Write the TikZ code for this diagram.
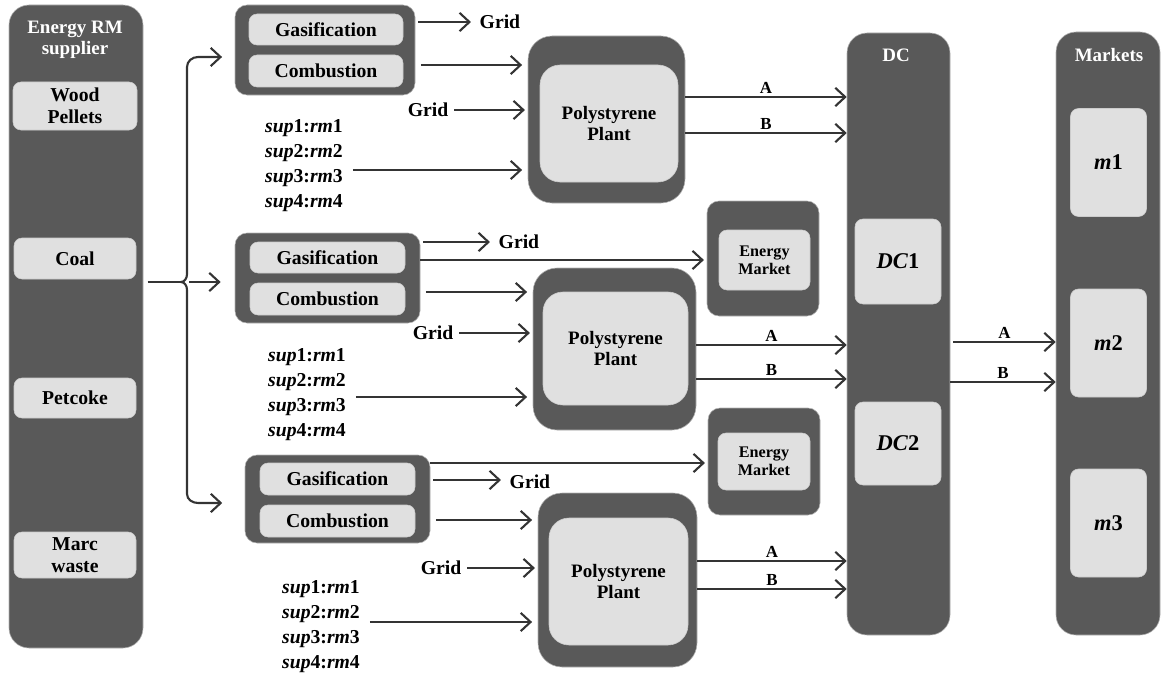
\documentclass[tikz,border=0pt]{standalone}
\usepackage{fontspec}
\setmainfont{Liberation Serif}
\usetikzlibrary{arrows.meta}
\definecolor{boxdark}{RGB}{89,89,89}
\definecolor{boxlight}{RGB}{224,224,224}
\definecolor{wire}{RGB}{52,52,52}
\newcommand{\lbl}{\bfseries\fontsize{14}{16}\selectfont}
\newcommand{\supline}[1]{\textit{sup}#1:\textit{rm}#1}

\tikzset{
  sz/.style 2 args={minimum width=#1*0.025cm, minimum height=#2*0.025cm},
  column/.style={fill=boxdark, draw=gray!60, rounded corners=0.5cm, inner sep=0pt},
  holder/.style={fill=boxdark, draw=gray!60, rounded corners=0.3cm, inner sep=0pt},
  plant/.style={fill=boxdark, draw=gray!60, rounded corners=0.6cm, inner sep=0pt},
  cell/.style={fill=boxlight, draw=gray!40, rounded corners=0.2cm, inner sep=0pt,
    align=center, font=\lbl},
  plantcell/.style={fill=boxlight, draw=gray!40, rounded corners=0.5cm, inner sep=0pt,
    align=center, font=\bfseries\fontsize{13.5}{15}\selectfont},
  head/.style={text=white, align=center, font=\bfseries\fontsize{13.5}{14.5}\selectfont},
  tag/.style={font=\lbl, inner sep=1pt},
  sups/.style={font=\bfseries\fontsize{14}{17.8}\selectfont, align=left, inner sep=1pt},
  flow/.style={draw=wire, line width=1.5pt, -{Straight Barb[length=7pt,width=13pt]}},
  ab/.style={midway, above, font=\bfseries\fontsize{12}{13}\selectfont, inner sep=2pt}
}

\begin{document}
\begin{tikzpicture}[x=0.025cm, y=-0.025cm]
\useasboundingbox (0,0) rectangle (1162,683);

% supplier column
\node[column, sz={134}{643}] (sup) at (76,326.5) {};
\node[head] (supt) at (75,40) {Energy RM\\supplier};
\node[cell, sz={124}{48}] (wood) at (75,106) {Wood\\Pellets};
\node[cell, sz={122}{41}] (coal) at (75,258.5) {Coal};
\node[cell, sz={122}{40}] (pet) at (75,398) {Petcoke};
\node[cell, sz={122}{46}] (marc) at (75,555) {Marc\\waste};

% distribution centres and markets
\node[column, sz={103}{602}] (dc) at (898.5,334) {};
\node[head] (dct) at (896,55) {DC};
\node[cell, sz={86}{85}, font=\bfseries\fontsize{16}{18}\selectfont] (dc1) at (898,261.5) {\textit{DC}1};
\node[cell, sz={86}{83}, font=\bfseries\fontsize{16}{18}\selectfont] (dc2) at (898,443.5) {\textit{DC}2};
\node[column, sz={104}{603}] (mk) at (1108,333.5) {};
\node[head] (mkt) at (1109,55) {Markets};
\foreach \i/\y in {1/162.5,2/343,3/523}
  \node[cell, sz={76}{108}, font=\bfseries\fontsize{16}{18}\selectfont] (m\i) at (1108.5,\y) {\textit{m}\i};

% group 1
\node[holder, sz={180}{90}] (gen1) at (325,50) {};
\node[cell, sz={154}{31}] (gas1) at (326,29.5) {Gasification};
\node[cell, sz={154}{32}] (comb1) at (326,71) {Combustion};
\node[plant, sz={157}{167}] (poly1) at (606.5,119.5) {};
\node[plantcell, sz={138}{117}] (pp1) at (609,123.5) {Polystyrene\\Plant};
\node[tag, anchor=west] (grid1a) at (478,22) {Grid};
\node[tag, anchor=east] (grid1b) at (450,110) {Grid};
\node[sups] (sups1) at (304,166) {\supline1\\\supline2\\\supline3\\\supline4};

% group 2
\node[holder, sz={185}{90}] (gen2) at (327.5,278) {};
\node[cell, sz={155}{31}] (gas2) at (327.5,257.5) {Gasification};
\node[cell, sz={155}{32}] (comb2) at (327.5,299) {Combustion};
\node[holder, sz={112}{115}] (em1) at (763,258.5) {};
\node[cell, sz={91}{60}, font=\bfseries\fontsize{11.5}{13}\selectfont] (emc1) at (764.5,260) {Energy\\Market};
\node[plant, sz={163}{162}] (poly2) at (614.5,349) {};
\node[plantcell, sz={145}{113}] (pp2) at (615.5,348.5) {Polystyrene\\Plant};
\node[tag, anchor=west] (grid2a) at (497,242) {Grid};
\node[tag, anchor=east] (grid2b) at (455,333) {Grid};
\node[sups] (sups2) at (307,395) {\supline1\\\supline2\\\supline3\\\supline4};

% group 3
\node[holder, sz={185}{88}] (gen3) at (337.5,499) {};
\node[cell, sz={155}{32}] (gas3) at (337.5,479) {Gasification};
\node[cell, sz={155}{32}] (comb3) at (337.5,521) {Combustion};
\node[holder, sz={112}{107}] (em2) at (764,461.5) {};
\node[cell, sz={92}{57}, font=\bfseries\fontsize{11.5}{13}\selectfont] (emc2) at (764,461.5) {Energy\\Market};
\node[plant, sz={159}{174}] (poly3) at (617.5,580) {};
\node[plantcell, sz={139}{127}] (pp3) at (618.5,581.5) {Polystyrene\\Plant};
\node[tag, anchor=west] (grid3a) at (508,482) {Grid};
\node[tag, anchor=east] (grid3b) at (463,568) {Grid};
\node[sups] (sups3) at (321,627) {\supline1\\\supline2\\\supline3\\\supline4};

% supplier fork
\coordinate (fork) at (181,282);
\draw[draw=wire, line width=1.5pt] ([xshift=3pt]sup.east |- fork) -- (fork);
\draw[flow, shorten >=9pt] (fork) to[out=0,in=-90] (187,274) -- (187,67)
    to[out=90,in=180] (198,57) -- (gen1.west |- 0,57);
\draw[flow, shorten >=16pt] (fork) to[out=0,in=90] (187,290) -- (187,494)
    to[out=-90,in=180] (198,503) -- (gen3.west |- 0,503);
\draw[flow, shorten >=10pt] (189,282) -- (gen2.west |- fork);

% plant inputs
\foreach \g/\ya/\yc/\ys in {1/22/65/170, 2/242/292/397, 3/480/520/622}
{
  \draw[flow, shorten >=5pt] ([xshift=2pt]gen\g.east |- 0,\ya) -- (grid\g a.west |- 0,\ya);
  \draw[flow, shorten >=4pt] ([xshift=4pt]gen\g.east |- 0,\yc) -- (poly\g.west |- 0,\yc);
  \draw[flow, shorten >=2pt] ([xshift=3pt]grid\g b.east) -- (poly\g.west |- grid\g b);
  \draw[flow, shorten >=4pt] ([xshift=6pt]sups\g.east |- 0,\ys) -- (poly\g.west |- 0,\ys);
}
\draw[flow, shorten >=2pt] (gen2.east |- 0,260) -- (em1.west |- 0,260);
\draw[flow, shorten >=2pt] (gen3.east |- 0,463) -- (em2.west |- 0,463);

% products to DC
\foreach \g/\ya/\yb in {1/97/133, 2/345/379, 3/561/589}
{
  \draw[flow] (poly\g.east |- 0,\ya) -- (dc.west |- 0,\ya) node[ab] {A};
  \draw[flow] (poly\g.east |- 0,\yb) -- (dc.west |- 0,\yb) node[ab] {B};
}

% DC to markets
\draw[flow] ([xshift=2pt]dc.east |- 0,342) -- (mk.west |- 0,342) node[ab] {A};
\draw[flow] (dc.east |- 0,382) -- (mk.west |- 0,382) node[ab] {B};

\end{tikzpicture}
\end{document}
